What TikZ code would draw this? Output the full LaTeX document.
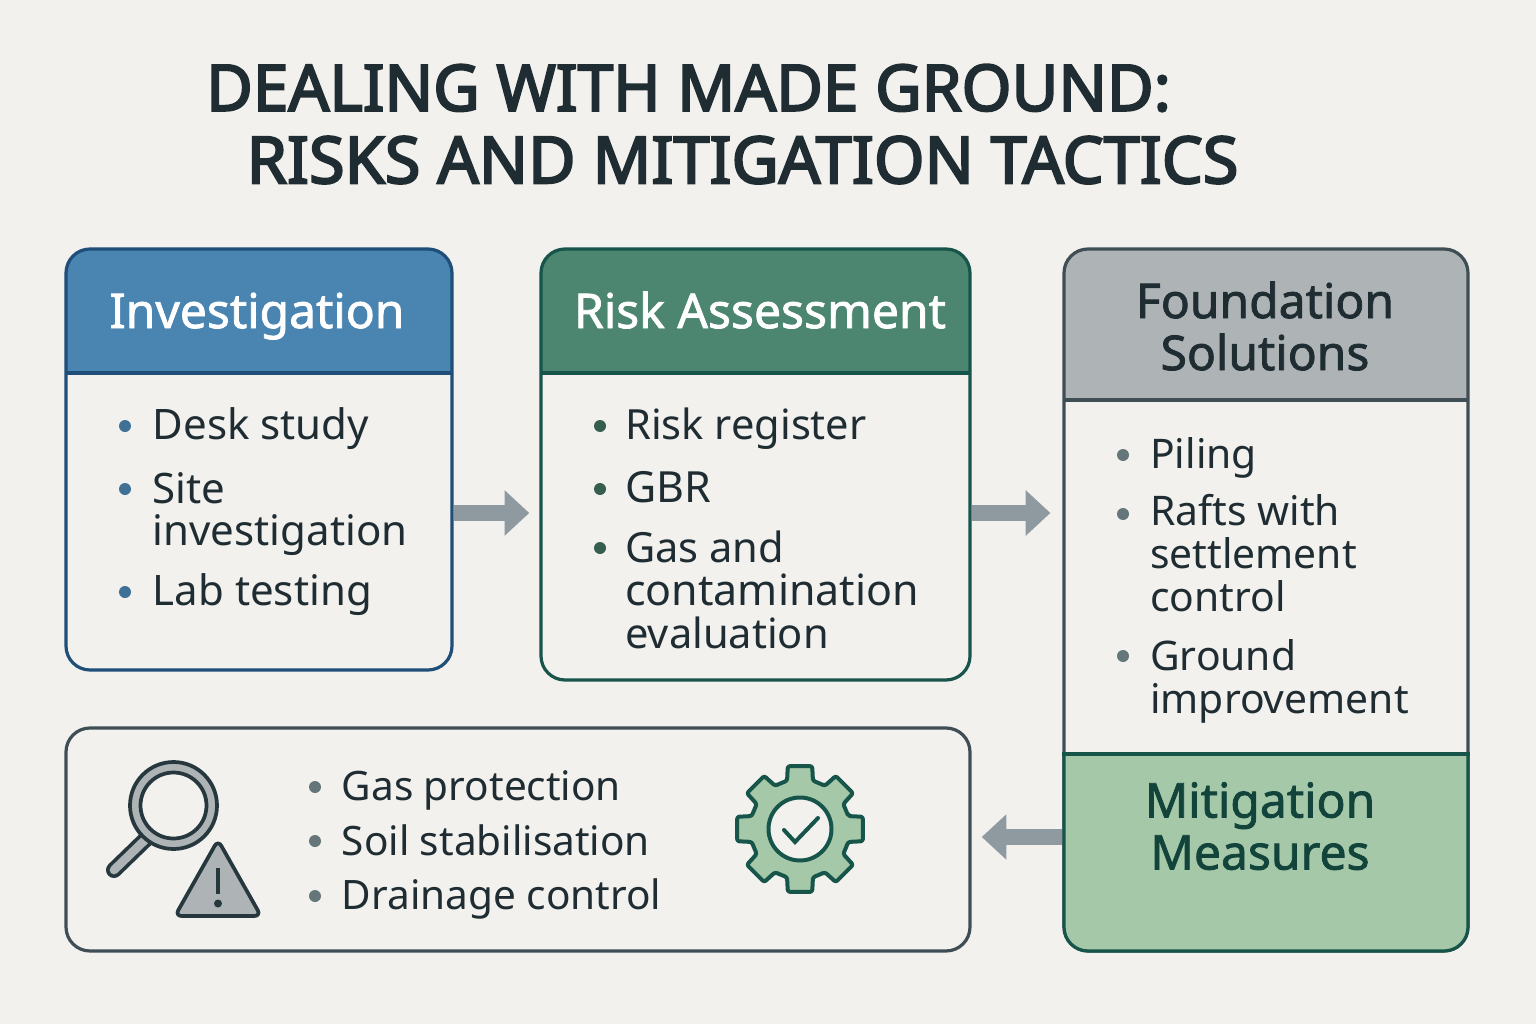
\documentclass[tikz,border=0pt]{standalone}
\usepackage{fontspec}
\setmainfont{Noto Sans}
\newfontfamily\headface{Noto Sans}[FakeBold=1.6]
\newfontfamily\titleface{Noto Sans}[FakeBold=3.2]
\usetikzlibrary{arrows.meta,calc}
\definecolor{bgc}{HTML}{F2F1EE}
\definecolor{ink}{HTML}{1F2D33}
\definecolor{blueh}{HTML}{4A84B0}
\definecolor{blueb}{HTML}{1F4E79}
\definecolor{greenh}{HTML}{4C8670}
\definecolor{greenb}{HTML}{17554A}
\definecolor{grayh}{HTML}{AEB4B6}
\definecolor{slateb}{HTML}{3F4E55}
\definecolor{mint}{HTML}{A5C8A9}
\definecolor{arrowc}{HTML}{8F9AA0}
\definecolor{dotg}{HTML}{65767A}
\definecolor{iconink}{HTML}{26383E}
\newcommand{\invfont}{\fontsize{31.5}{32.2}\selectfont}
\newcommand{\riskfont}{\fontsize{32.2}{32.2}\selectfont}
\newcommand{\riskfontb}{\fontsize{31.2}{32.2}\selectfont}
\newcommand{\fndfont}{\fontsize{30.6}{32.2}\selectfont}
\newcommand{\lowfont}{\fontsize{30.4}{32.2}\selectfont}
\newcommand{\headfont}{\headface\fontsize{36}{39}\selectfont}
\newcommand{\titlefont}{\titleface\fontsize{48}{54}\selectfont}
\newcommand{\titlefontb}{\titleface\fontsize{48.7}{54}\selectfont}
\tikzset{
 x=0.75pt,y=-0.75pt,
 panel/.style n args={3}{draw=#3,line width=2.4pt,fill=bgc,rounded corners=18pt,inner sep=0pt,
   minimum width=#1*0.75pt,minimum height=#2*0.75pt},
 headfill/.style n args={2}{path picture={\fill[#1,sharp corners] (path picture bounding box.north west) rectangle ++(1600,#2);
    \draw[sharp corners,line width=2.6pt,draw=\pgfkeysvalueof{/tikz/sepcolor}] ($(path picture bounding box.north west)+(0,#2)$) -- ++(1600,0);}},
 sepcolor/.initial=black,
 bodytext/.style={anchor=west,inner sep=0pt,align=left,text=ink,yshift=-4.1pt,
   execute at begin node=\strut,execute at end node=\strut},
 headtext/.style={inner sep=0pt,align=center,font=\headfont,yshift=-5pt,
   execute at begin node=\strut,execute at end node=\strut},
 titletext/.style={inner sep=0pt,text=ink},
 dotmark/.style={circle,inner sep=0pt,minimum size=9pt,fill=#1},
 blockarrow/.style={draw=arrowc,line width=11.5pt,-{Triangle[length=18.5pt,width=33pt,fill=arrowc]}},
 iconline/.style={draw=iconink,line width=2.8pt,line join=round},
}
\begin{document}
\begin{tikzpicture}
\useasboundingbox (0,0) rectangle (1536,1024);
\fill[bgc] (0,0) rectangle (1536,1024);
% title
\node[titletext,font=\titlefont] (t1) at (688.5,88) {DEALING WITH MADE GROUND:};
\node[titletext,font=\titlefontb] (t2) at (742.5,160) {RISKS AND MITIGATION TACTICS};
% panels
\node[panel={386}{421}{blueb},sepcolor=blueb,headfill={blueh}{124}] (inv) at (259,459.5) {};
\node[panel={429}{431}{greenb},sepcolor=greenb,headfill={greenh}{124}] (risk) at (755.5,464.5) {};
\node[panel={404}{702}{slateb},sepcolor=slateb,headfill={grayh}{151}] (fnd) at (1266,600) {};
\begin{scope}
\clip (1040,754) rectangle (1490,970);
\node[panel={404}{702}{greenb},fill=mint] (fndlow) at (1266,600) {};
\end{scope}
\draw[line width=2.6pt,greenb] (fnd.west |- 0,754) -- (fnd.east |- 0,754);
\node[panel={904}{223}{slateb}] (low) at (518,839.5) {};
% headings
\node[headtext,text=white] (h1) at (257,311) {Investigation};
\node[headtext,text=white] (h2) at (760,311) {Risk Assessment};
\node[headtext,text=ink] (h3) at (1265,327) {Foundation\\Solutions};
\node[headtext,text=greenb!80!black] (h4) at (1260,827) {Mitigation\\Measures};
% investigation
\foreach \y/\n in {426/a,489/b,592/c} \node[dotmark=blueh!85!black] (invd\n) at (125,\y) {};
\node[bodytext,font=\invfont] (i1) at (152.5,425) {Desk study};
\node[bodytext,font=\invfont] (i2) at (152.5,510) {Site\\investigation};
\node[bodytext,font=\invfont] (i3) at (152.5,591) {Lab testing};
% risk
\foreach \y/\n in {426/a,489/b,548/c} \node[dotmark=greenh!70!black] (riskd\n) at (600,\y) {};
\node[bodytext,font=\riskfontb] (r1) at (625,425) {Risk register};
\node[bodytext,font=\riskfont] (r2) at (625,488) {GBR};
\node[bodytext,font=\riskfont] (r3) at (625,591) {{\riskfontb Gas and}\\contamination\\{\riskfontb evaluation}};
% foundation
\foreach \y/\n in {455/a,514/b,656/c} \node[dotmark=dotg] (fndd\n) at (1123,\y) {};
\node[bodytext,font=\fndfont] (f1) at (1150,454) {Piling};
\node[bodytext,font=\fndfont] (f2) at (1150,554) {Rafts with\\settlement\\control};
\node[bodytext,font=\fndfont] (f3) at (1150,677) {Ground\\improvement};
% lower list
\foreach \y/\n in {787/a,841/b,896/c} \node[dotmark=dotg] (lowd\n) at (315,\y) {};
\node[bodytext,font=\lowfont] (l1) at (341.5,786) {Gas protection};
\node[bodytext,font=\lowfont] (l2) at (341.5,841) {Soil stabilisation};
\node[bodytext,font=\lowfont] (l3) at (341.5,895) {Drainage control};
% arrows
\coordinate (ya) at (0,513);
\coordinate (yb) at (0,837);
\draw[blockarrow,shorten >=7.6pt] (inv.east |- ya) -- (risk.west |- ya);
\draw[blockarrow,shorten >=9pt] (risk.east |- ya) -- (fnd.west |- ya);
\draw[blockarrow,shorten >=7.6pt] (fnd.west |- yb) -- (low.east |- yb);
% magnifier and warning icon
\draw[line cap=round,draw=iconink,line width=12pt] (146,839) -- (114,870);
\draw[line cap=round,draw=grayh,line width=6.5pt] (146,839) -- (114,870);
\draw[iconline,fill=grayh] (173.5,805.5) circle (43.5);
\draw[iconline,fill=bgc] (173.5,805.5) circle (33);
\draw[iconline,fill=grayh,rounded corners=5pt] (218,840) -- (261,916) -- (175,916) -- cycle;
\draw[draw=iconink,line width=3.6pt] (218,868) -- (218,894);
\fill[iconink] (218,903.5) circle (4);
% gear
\draw[draw=greenb,line width=3pt,fill=mint,line join=round,rounded corners=1.6pt]
  ($(800,829)+(-15:50)$) coordinate (g0)
  \foreach \a in {0,45,...,315} {
    -- ($(800,829)+(\a-15:50)$) -- ($(800,829)+(\a-11:64)$) -- ($(800,829)+(\a+11:64)$) -- ($(800,829)+(\a+15:50)$)
  } -- cycle;
\draw[draw=greenb,line width=3pt,fill=bgc] (800,829) circle (31.5);
\draw[draw=greenb,line width=3pt,line cap=round,line join=miter] (784,830) -- (795,842) -- (818,818);
\end{tikzpicture}
\end{document}
